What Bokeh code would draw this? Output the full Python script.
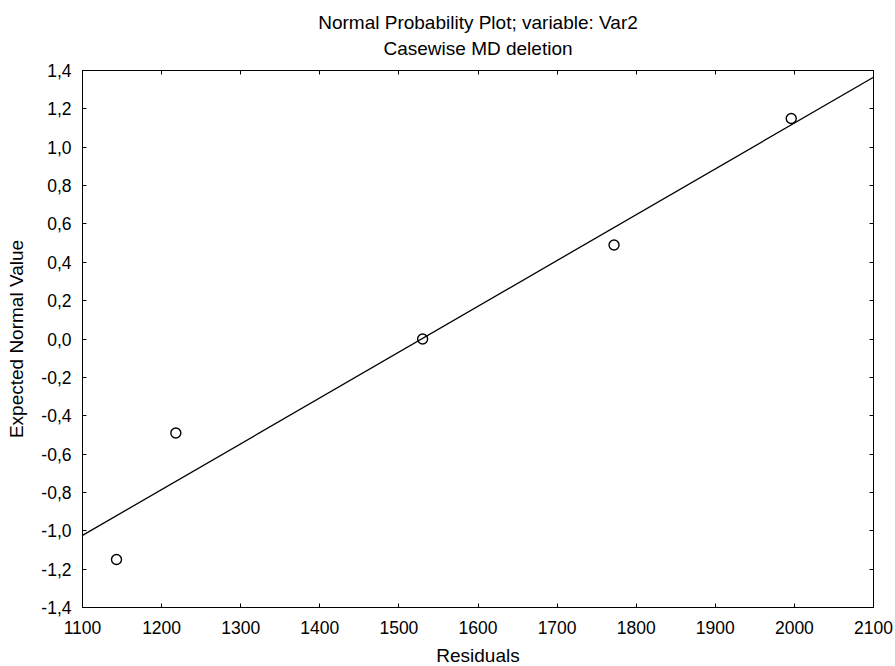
from bokeh.plotting import figure
from bokeh.models import LinearAxis, FixedTicker, CustomJSTickFormatter, Title, Range1d
from bokeh.embed import file_html
from bokeh.resources import INLINE

# ---- data ----
residuals = [1143, 1218, 1530, 1772, 1996]
expected_normal = [-1.15, -0.49, 0.0, 0.49, 1.15]
fit_x = [1100, 2100]
fit_y = [-1.024, 1.365]
x_ticks = [1100, 1200, 1300, 1400, 1500, 1600, 1700, 1800, 1900, 2000, 2100]
y_ticks = [-1.4, -1.2, -1.0, -0.8, -0.6, -0.4, -0.2, 0.0, 0.2, 0.4, 0.6, 0.8, 1.0, 1.2, 1.4]
title_line1 = "Normal Probability Plot; variable: Var2"
title_line2 = "Casewise MD deletion"
x_label = "Residuals"
y_label = "Expected Normal Value"

FONT = "Liberation Sans"
TICK_SIZE = "17.5px"
LABEL_SIZE = "19px"

p = figure(frame_width=791, frame_height=537,
           x_range=Range1d(x_ticks[0], x_ticks[-1]),
           y_range=Range1d(y_ticks[0], y_ticks[-1]),
           output_backend="svg", toolbar_location=None,
           min_border_left=82, min_border_right=20,
           min_border_top=70, min_border_bottom=59,
           x_axis_location=None, y_axis_location=None)
p.grid.visible = False
p.outline_line_color = "black"
p.outline_line_width = 1
p.background_fill_color = "white"
p.border_fill_color = "white"

fmt = CustomJSTickFormatter(code="""
var v = Math.abs(tick) < 1e-9 ? 0 : tick;
return v.toFixed(1).replace('.', ',');
""")
blank = CustomJSTickFormatter(code="return '';")

def style(ax, labels=True):
    ax.axis_line_color = "black"
    ax.axis_line_width = 1
    ax.major_tick_in = 4
    ax.major_tick_out = 0
    ax.minor_tick_in = 0
    ax.minor_tick_out = 0
    ax.major_tick_line_color = "black"
    ax.major_label_text_font = FONT
    ax.major_label_text_font_size = TICK_SIZE
    ax.major_label_text_color = "black"
    if labels:
        ax.axis_label_text_font = FONT
        ax.axis_label_text_font_size = LABEL_SIZE
        ax.axis_label_text_font_style = "normal"
        ax.axis_label_text_color = "black"
    else:
        ax.formatter = blank
        ax.major_label_standoff = 0

xb = LinearAxis(ticker=FixedTicker(ticks=x_ticks), axis_label=x_label)
style(xb)
xb.major_label_standoff = 13
xb.axis_label_standoff = 8
p.add_layout(xb, "below")

yl = LinearAxis(ticker=FixedTicker(ticks=y_ticks), formatter=fmt, axis_label=y_label)
style(yl)
yl.major_label_standoff = 11
yl.axis_label_standoff = 11
p.add_layout(yl, "left")

xt = LinearAxis(ticker=FixedTicker(ticks=x_ticks))
style(xt, labels=False)
p.add_layout(xt, "above")

yr = LinearAxis(ticker=FixedTicker(ticks=y_ticks))
style(yr, labels=False)
p.add_layout(yr, "right")

sub = Title(text=title_line2, align="center", text_font=FONT,
            text_font_size=LABEL_SIZE, text_font_style="normal", text_color="black",
            standoff=23.5)
p.add_layout(sub, "above")

p.title.text = title_line1
p.title.align = "center"
p.title.text_font = FONT
p.title.text_font_size = LABEL_SIZE
p.title.text_font_style = "normal"
p.title.text_color = "black"
p.title.standoff = -18.5

p.line(fit_x, fit_y, line_color="black", line_width=1.3)
p.scatter(residuals, expected_normal, marker="circle", size=10,
          fill_color=None, line_color="black", line_width=1.4)

open("out.html", "w").write(file_html(p, INLINE))
